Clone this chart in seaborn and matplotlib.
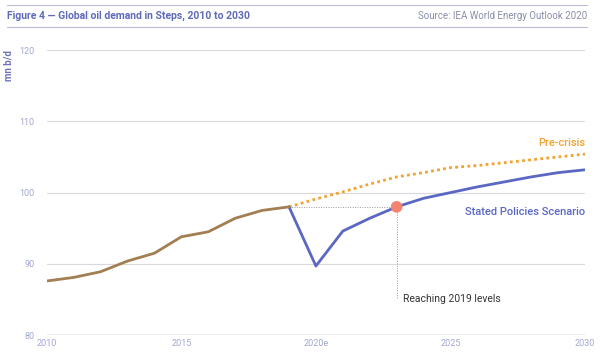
import pandas as pd
import seaborn as sns
import matplotlib.pyplot as plt

# data
hist_years = list(range(2010, 2020))
hist_vals = [87.6, 88.1, 88.9, 90.4, 91.5, 93.8, 94.5, 96.4, 97.5, 98.0]

steps_years = list(range(2019, 2031))
steps_vals = [98.0, 89.7, 94.6, 96.4, 98.0, 99.2, 100.0, 100.8, 101.5, 102.2, 102.8, 103.2]

pre_years = list(range(2019, 2031))
pre_vals = [98.0, 99.1, 100.1, 101.2, 102.2, 102.8, 103.5, 103.8, 104.2, 104.6, 105.0, 105.4]

x_ticks = [2010, 2015, 2020, 2025, 2030]
x_labels = ["2010", "2015", "2020e", "2025", "2030"]
y_ticks = [80, 90, 100, 110, 120]

hist = pd.DataFrame({"year": hist_years, "value": hist_vals})
steps = pd.DataFrame({"year": steps_years, "value": steps_vals})
pre = pd.DataFrame({"year": pre_years, "value": pre_vals})

BROWN = "#a27f52"
BLUE = "#5a68c4"
ORANGE = "#f2a230"
DOT = "#f4836f"
TICK = "#a3a8d0"

sns.set_theme(style="white")
plt.rcParams["font.family"] = ["Roboto", "DejaVu Sans"]

fig = plt.figure(figsize=(6, 3.6), dpi=100)
ax = fig.add_axes([0.078, 0.069, 0.897, 0.792])

ax.axhline(80, color="#e4e4ea", lw=1.8, zorder=0)
for y in y_ticks[1:]:
    ax.axhline(y, color="#d8d8de", lw=0.8, zorder=0)

sns.lineplot(data=pre, x="year", y="value", ax=ax, color=ORANGE, lw=2,
             linestyle=(0, (1, 1.2)))
sns.lineplot(data=steps, x="year", y="value", ax=ax, color=BLUE, lw=2)
sns.lineplot(data=hist, x="year", y="value", ax=ax, color=BROWN, lw=2)

# reaching 2019 levels marker and guides
ax.plot([2019, 2023], [98.0, 98.0], color="#999999", lw=0.7, linestyle=(0, (1, 1.5)), zorder=1)
ax.plot([2023, 2023], [98.0, 85.2], color="#999999", lw=0.7, linestyle=(0, (1, 1.5)), zorder=1)
ax.scatter([2023], [98.0], s=70, color=DOT, zorder=5, edgecolor="none")

ax.text(2030, 106.9, "Pre-crisis", color=ORANGE, fontsize=8, ha="right", va="center", fontweight="medium")
ax.text(2030, 97.3, "Stated Policies Scenario", color=BLUE, fontsize=8, ha="right", va="center", fontweight="medium")
ax.text(2023.25, 85.1, "Reaching 2019 levels", color="#333333", fontsize=7.5, ha="left", va="center")

ax.set_xlim(2010, 2030)
ax.set_ylim(80, 120)
ax.set_xticks(x_ticks)
ax.set_xticklabels(x_labels)
ax.set_yticks(y_ticks)
ax.tick_params(axis="both", length=0, labelsize=6.5, colors=TICK)
ax.tick_params(axis="y", pad=9)
ax.tick_params(axis="x", pad=3)
ax.set_xlabel("")
ax.set_ylabel("")
sns.despine(ax=ax, left=True, bottom=True)

fig.text(0.014, 0.86, "mn b/d", rotation=90, color="#6b74b8", fontsize=7,
         fontweight="bold", ha="center", va="top")

# header
fig.add_artist(plt.Line2D([0.012, 0.978], [0.985, 0.985], color="#b9bcd6", lw=0.8))
fig.add_artist(plt.Line2D([0.012, 0.978], [0.925, 0.925], color="#b9bcd6", lw=0.8))
fig.text(0.012, 0.955, "Figure 4 \u2014 Global oil demand in Steps, 2010 to 2030",
         color="#5f6ab8", fontsize=7.5, fontweight="bold", va="center", ha="left")
fig.text(0.978, 0.955, "Source: IEA World Energy Outlook 2020",
         color="#8a8ea8", fontsize=7, va="center", ha="right")

plt.savefig("out.png", dpi=100)
